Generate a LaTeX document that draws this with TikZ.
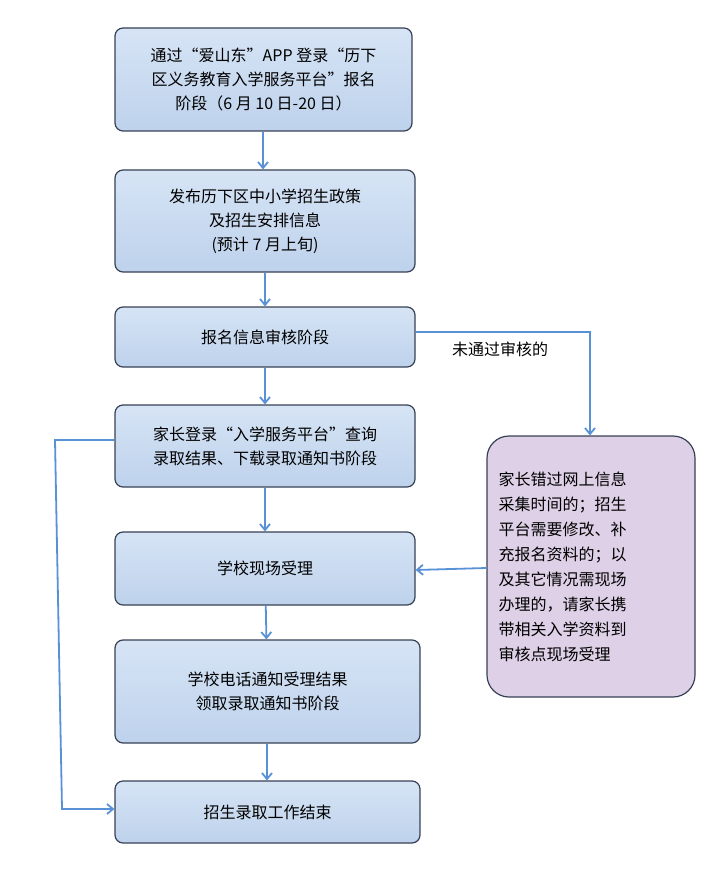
\documentclass[tikz,border=0pt]{standalone}
\usepackage{fontspec}
\setmainfont{Noto Sans CJK SC}
\usetikzlibrary{arrows.meta}
\definecolor{bfill1}{RGB}{214,228,245}
\definecolor{bfill2}{RGB}{190,210,236}
\definecolor{bdraw}{RGB}{55,65,85}
\definecolor{arrc}{RGB}{88,145,214}
\definecolor{pfill}{RGB}{222,208,230}
\begin{document}
\begin{tikzpicture}[x=1pt,y=-1pt,
  box/.style={draw=bdraw,line width=1.2pt,rounded corners=8pt,top color=bfill1,bottom color=bfill2,align=center,font=\fontsize{16}{24}\selectfont,inner sep=0pt},
  pbox/.style={draw=bdraw,line width=1.2pt,rounded corners=22pt,fill=pfill,align=left,font=\fontsize{16}{25}\selectfont,inner sep=0pt},
  arr/.style={draw=arrc,line width=1.8pt,-{Straight Barb[length=6pt,width=10pt]}}]
\useasboundingbox (0,0) rectangle (721,893);
\node[box,minimum width=297,minimum height=103] (b1) at (263.5,79.5) {通过“爱山东”APP 登录“历下\\区义务教育入学服务平台”报名\\阶段（6 月 10 日-20 日）};
\node[box,minimum width=300,minimum height=102] (b2) at (265,221) {发布历下区中小学招生政策\\及招生安排信息\\(预计 7 月上旬)};
\node[box,minimum width=300,minimum height=60] (b3) at (265,337) {报名信息审核阶段};
\node[box,minimum width=300,minimum height=82] (b4) at (265,446) {家长登录“入学服务平台”查询\\录取结果、下载录取通知书阶段};
\node[box,minimum width=300,minimum height=73] (b5) at (265,568.5) {学校现场受理};
\node[box,minimum width=305,minimum height=103] (b6) at (267.5,691.5) {学校电话通知受理结果\\领取录取通知书阶段};
\node[box,minimum width=305,minimum height=62] (b7) at (267.5,812) {招生录取工作结束};
\node[pbox,minimum width=208,minimum height=261,text width=185] (p) at (591,566.5) {家长错过网上信息\\采集时间的；招生\\平台需要修改、补\\充报名资料的；以\\及其它情况需现场\\办理的，请家长携\\带相关入学资料到\\审核点现场受理};
\draw[arr] (b1.south -| 263,0) -- (b2.north -| 263,0);
\draw[arr] (b2) -- (b3);
\draw[arr] (b3) -- (b4);
\draw[arr] (b4) -- (b5);
\draw[arr] (b5) -- (b6);
\draw[arr] (b6.south -| 267,0) -- (b7.north -| 267,0);
\coordinate (c1) at (590,332);
\draw[arr] (b3.east |- c1) -- (c1) -- (p.north -| c1);
\node[font=\fontsize{16}{18}\selectfont] (lab) at (500,349) {未通过审核的};
\draw[arr] (p.west |- 0,568) -- (b5.east |- 0,570);
\coordinate (l1) at (55,440);
\coordinate (l2) at (62,809);
\draw[arr] (b4.west |- l1) -- (l1) -- (l2) -- (b7.west |- l2);
\end{tikzpicture}
\end{document}
